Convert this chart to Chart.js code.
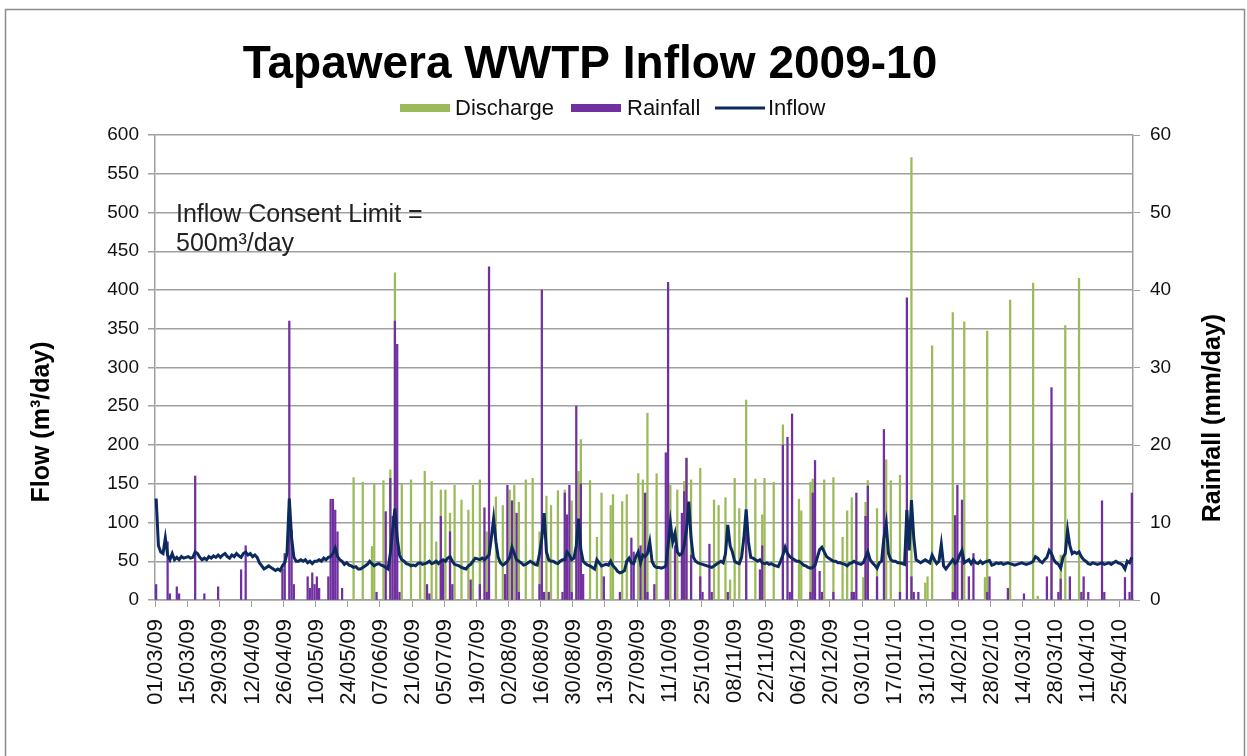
<!DOCTYPE html>
<html><head><meta charset="utf-8">
<script src="https://cdn.jsdelivr.net/npm/chart.js@4.4.1/dist/chart.umd.min.js"></script>
<style>html,body{margin:0;padding:0;background:#fff}#wrap{width:1247px;height:756px}</style>
</head><body><div id="wrap"><canvas id="c"></canvas></div>
<script>
// daily inflow m3/day, 01/03/09 .. 30/04/10, two weeks per row
const inflow = [
  131,70,62,60,80,58,52,60,52,55,52,56,54,55,
  56,54,55,62,60,55,52,54,52,56,54,57,55,58,
  55,58,60,56,54,58,56,60,57,55,60,62,58,60,
  56,58,55,48,44,40,42,44,42,40,38,40,38,44,
  48,60,131,80,55,50,50,52,50,52,48,50,47,50,
  50,52,50,54,52,55,56,60,67,56,52,50,46,48,
  45,44,42,43,40,40,42,44,46,50,47,44,46,47,
  45,44,42,40,60,90,118,80,58,52,50,47,46,44,
  45,44,47,48,46,47,48,50,47,48,50,47,50,52,
  50,54,56,50,46,45,44,42,41,40,44,46,50,54,
  53,52,54,52,55,58,80,105,75,55,48,45,47,50,
  55,68,60,52,50,48,45,46,48,50,48,46,45,60,
  80,112,62,52,50,50,48,47,50,52,52,62,58,52,
  54,70,105,65,50,47,45,44,42,40,52,48,44,45,
  46,45,50,44,41,37,35,36,38,50,54,48,47,56,
  62,48,58,56,60,75,50,44,42,42,41,42,44,70,
  100,75,86,62,58,60,70,90,127,80,55,50,48,47,
  46,45,44,43,42,44,46,48,50,48,60,97,70,62,
  50,48,47,55,80,117,75,55,54,52,50,52,48,47,
  48,46,47,45,44,43,50,58,68,60,56,54,52,50,
  50,48,45,44,42,41,42,45,55,65,68,62,56,54,
  52,50,50,48,48,47,46,44,47,48,50,48,47,46,
  48,55,62,52,48,45,41,48,50,80,99,60,52,50,
  50,48,48,47,46,116,64,129,80,52,50,48,50,52,
  50,48,58,52,47,50,72,44,40,44,48,52,47,50,
  58,64,48,50,52,47,52,48,47,50,47,49,50,51,
  45,46,48,47,48,46,47,48,47,46,45,46,47,48,
  47,46,47,48,50,56,54,50,48,52,55,64,60,52,
  48,46,41,55,60,90,70,60,62,60,62,56,52,50,
  47,46,48,47,46,47,48,46,47,48,46,48,50,48,
  47,45,40,50,48,55
];

// discharge days: [day index, m3/day]
const dischargeDays = [
  [86,158],[90,152],[94,69],[95,150],[99,154],[102,168],[104,422],[107,150],[111,155],[115,99],
  [117,166],[120,153],[122,75],[124,142],[126,142],[128,112],[130,148],[133,129],[136,116],[138,148],
  [141,155],[144,88],[148,133],[151,122],[154,142],[156,148],[158,126],[161,155],[164,157],[167,88],
  [170,134],[172,122],[175,141],[178,142],[181,128],[184,166],[185,207],[189,154],[192,81],[194,138],
  [198,122],[199,136],[203,127],[205,136],[210,163],[212,155],[214,241],[218,163],[224,148],[227,142],
  [230,153],[231,183],[233,155],[237,170],[243,129],[245,122],[248,132],[250,26],[252,157],[254,118],
  [257,258],[261,156],[264,110],[265,157],[269,152],[273,226],[277,95],[280,130],[281,115],[285,152],
  [286,156],[291,155],[295,158],[299,81],[301,115],[303,132],[308,29],[309,126],[310,154],[314,118],
  [318,181],[320,154],[324,161],[329,571],[335,22],[336,30],[338,328],[347,371],[348,108],[352,359],
  [361,29],[362,347],[372,387],[382,409],[384,5],[390,202],[394,58],[396,354],[402,415]
];

// rainfall days: [day index, mm/day]
const rainDays = [
  [0,2],[5,7.5],[6,0.8],[9,1.7],[10,0.8],[17,16],[21,0.8],[27,1.7],[37,3.9],[39,7],
  [55,4],[56,6],[58,36],[59,9],[60,2],[66,3],[67,1.5],[68,3.5],[69,2],[70,3],
  [71,1.5],[75,3],[76,13],[77,13],[78,11.6],[79,8.8],[81,1.5],[96,1],[100,11.4],[102,15.7],
  [103,10.8],[104,36],[105,33],[106,1],[118,2],[119,0.8],[124,10.8],[125,5.2],[128,8.8],[129,2],
  [137,2.6],[141,2],[143,11.9],[144,1],[145,43],[152,3.3],[153,14.8],[155,12.8],[157,11.2],[158,1],
  [167,2],[168,40],[169,1],[171,1],[177,1],[178,13.8],[179,11],[180,14.8],[181,1],[183,25],
  [184,10.4],[185,15],[186,3.3],[195,3],[202,1],[207,8],[208,6.2],[211,7],[213,13.8],[214,1],
  [217,2],[222,19],[223,41],[226,7],[229,11.2],[230,14],[231,18.3],[233,5.8],[237,3],[238,1],
  [241,7.2],[242,1],[249,1],[257,10.8],[263,3.9],[264,7],[273,20],[275,21],[276,1],[277,24],
  [285,1],[286,13.8],[287,18],[289,3.7],[290,1],[295,1],[303,1],[304,1],[305,13.8],[309,10.8],
  [310,14.7],[314,3],[317,22],[324,1],[327,39],[329,3],[330,1],[332,1],[347,1],[348,10.9],
  [349,14.8],[351,12.9],[354,3],[356,6],[362,1],[363,3],[371,1.5],[378,0.8],[388,3],[390,27.4],
  [393,1],[394,2.7],[398,3],[403,1],[404,3],[406,1],[412,12.8],[413,1],[422,2.9],[424,1],[425,13.8]
];

const tickLabels = ['01/03/09','15/03/09','29/03/09','12/04/09','26/04/09','10/05/09','24/05/09','07/06/09',
  '21/06/09','05/07/09','19/07/09','02/08/09','16/08/09','30/08/09','13/09/09','27/09/09','11/10/09',
  '25/10/09','08/11/09','22/11/09','06/12/09','20/12/09','03/01/10','17/01/10','31/01/10','14/02/10',
  '28/02/10','14/03/10','28/03/10','11/04/10','25/04/10'];

const FONT = '"Liberation Sans", Arial, sans-serif';
const GREEN = '#9bbb59', PURPLE = '#7030a0', NAVY = '#0c2a5e', GRID = '#a0a0a0';

// one category per day
const nDays = inflow.length;
const dayLabels = [];
for(let i=0;i<nDays;i++){
  const d = new Date(Date.UTC(2009,2,1+i));
  dayLabels.push(String(d.getUTCDate()).padStart(2,'0')+'/'+String(d.getUTCMonth()+1).padStart(2,'0')+'/'+String(d.getUTCFullYear()).slice(2));
}
const discharge = new Array(nDays).fill(null);
dischargeDays.forEach(([d,v])=>{ discharge[d]=v; });
const rainfall = new Array(nDays).fill(null);
rainDays.forEach(([d,v])=>{ rainfall[d]=v; });

Chart.defaults.font.family = FONT;
Chart.defaults.color = '#111';

const deco = {
  id:'deco',
  beforeDraw(chart){
    const c = chart.ctx;
    c.save();
    c.fillStyle='#fff'; c.fillRect(0,0,chart.width,chart.height);
    c.strokeStyle='#8c8c8c'; c.lineWidth=1.5;
    c.strokeRect(5.5,9.5,1239,760);
    c.restore();
  },
  afterDraw(chart){
    const c = chart.ctx;
    c.save();
    c.fillStyle='#000';
    // title
    c.font='bold 46px '+FONT; c.textAlign='center'; c.textBaseline='alphabetic';
    c.fillText('Tapawera WWTP Inflow 2009-10',590,78);
    // legend
    c.font='22px '+FONT; c.textAlign='left'; c.textBaseline='middle';
    c.fillStyle=GREEN; c.fillRect(400,104,50,8);
    c.fillStyle='#111'; c.fillText('Discharge',455,109);
    c.fillStyle=PURPLE; c.fillRect(571,104,50,8);
    c.fillStyle='#111'; c.fillText('Rainfall',627,109);
    c.strokeStyle=NAVY; c.lineWidth=3;
    c.beginPath(); c.moveTo(715,108); c.lineTo(765,108); c.stroke();
    c.fillStyle='#111'; c.fillText('Inflow',768,109);
    // consent note
    c.font='25px '+FONT; c.textBaseline='alphabetic'; c.fillStyle='#222';
    c.fillText('Inflow Consent Limit =',176,222);
    c.fillText('500m\u00b3/day',176,251);
    // axis titles
    c.font='bold 25px '+FONT; c.fillStyle='#000'; c.textAlign='center'; c.textBaseline='middle';
    c.save(); c.translate(42,422); c.rotate(-Math.PI/2); c.fillText('Flow (m\u00b3/day)',0,0); c.restore();
    c.save(); c.translate(1213,418); c.rotate(-Math.PI/2); c.fillText('Rainfall (mm/day)',0,0); c.restore();
    c.restore();
  }
};

new Chart(document.getElementById('c'),{
  type:'bar',
  data:{labels:dayLabels,datasets:[
    {type:'line',label:'Inflow',data:inflow,yAxisID:'y',borderColor:NAVY,borderWidth:3,pointRadius:0,tension:0,order:0},
    {label:'Rainfall',data:rainfall,yAxisID:'y2',backgroundColor:PURPLE,barThickness:1.6,grouped:false,order:1},
    {label:'Discharge',data:discharge,yAxisID:'y',backgroundColor:GREEN,barThickness:1.6,grouped:false,order:2}
  ]},
  options:{
    responsive:true,maintainAspectRatio:false,animation:false,devicePixelRatio:1,
    layout:{padding:{top:135,left:0,right:0,bottom:0}},
    plugins:{legend:{display:false},tooltip:{enabled:false}},
    scales:{
      x:{
        ticks:{autoSkip:false,minRotation:90,maxRotation:90,font:{size:22},padding:12,
          callback:(v,i)=>i%14===0?tickLabels[i/14]:''},
        grid:{drawOnChartArea:false,tickLength:7,color:ctx=>ctx.index%14===0?GRID:'rgba(0,0,0,0)'},
        border:{color:GRID,width:1.5},
        afterFit:s=>{s.height=156;}
      },
      y:{
        position:'left',min:0,max:600,
        ticks:{stepSize:50,font:{size:19},padding:9},
        grid:{color:GRID,lineWidth:1.5,tickLength:7},
        border:{color:GRID,width:1.5},
        afterFit:s=>{s.width=155;}
      },
      y2:{
        position:'right',min:0,max:60,
        ticks:{stepSize:10,font:{size:19},padding:10},
        grid:{drawOnChartArea:false,color:GRID,tickLength:7},
        border:{color:GRID,width:1.5},
        afterFit:s=>{s.width=114;}
      }
    }
  },
  plugins:[deco]
});
</script></body></html>
